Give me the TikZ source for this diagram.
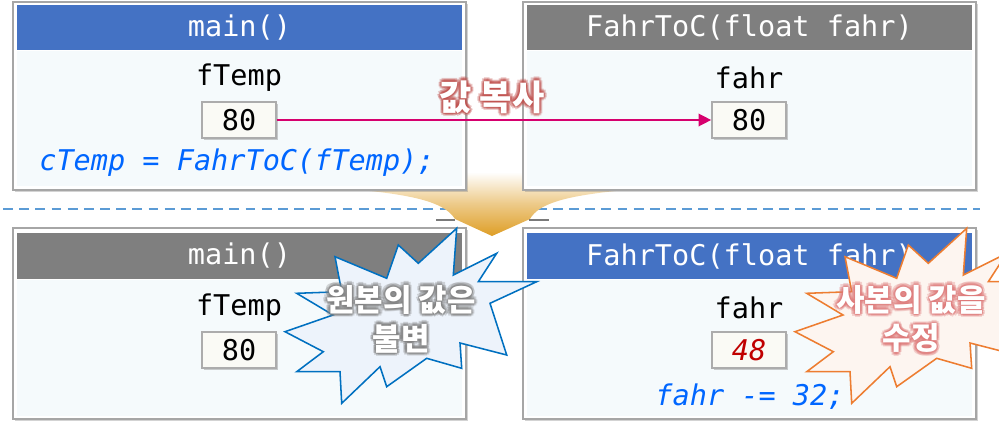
\documentclass[tikz,border=0pt]{standalone}
\usepackage{fontspec}
\setmonofont{DejaVu Sans Mono}
\newfontfamily\krfont{Noto Sans CJK KR}
\usepackage{tikz}
\usetikzlibrary{arrows.meta, shadows}

\definecolor{hdrblue}{RGB}{68,114,196}
\definecolor{hdrgray}{RGB}{127,127,127}
\definecolor{bodyfill}{RGB}{245,250,252}
\definecolor{valfill}{RGB}{250,250,245}
\definecolor{codeblue}{RGB}{0,102,255}
\definecolor{newval}{RGB}{192,0,0}
\definecolor{copypink}{RGB}{214,0,110}
\definecolor{sepblue}{RGB}{91,155,213}
\definecolor{funnelgold}{RGB}{222,158,38}
\definecolor{keepline}{RGB}{0,112,192}
\definecolor{keepfill}{RGB}{237,243,251}
\definecolor{editline}{RGB}{237,125,49}
\definecolor{editfill}{RGB}{253,245,240}
\definecolor{glowred}{RGB}{192,80,77}
\definecolor{glowpink}{RGB}{222,120,120}

\newcommand\codesize{\fontsize{20.3}{24}\selectfont}

\tikzset{
  frame/.style={draw=gray!70, line width=1.2pt, fill=white, inner sep=0pt,
    minimum width=11.325cm,
    drop shadow={shadow xshift=1.5pt, shadow yshift=-1.5pt, opacity=.35}},
  header/.style={fill=#1, text=white, inner sep=0pt, minimum width=11.125cm,
    minimum height=1.125cm, font=\ttfamily\codesize},
  body/.style={fill=bodyfill, inner sep=0pt, minimum width=11.125cm},
  varname/.style={font=\ttfamily\codesize},
  valbox/.style={draw=gray!65, line width=1.2pt, fill=valfill, inner sep=0pt,
    minimum width=1.85cm, minimum height=0.9cm, font=\ttfamily\codesize,
    drop shadow={shadow xshift=1.5pt, shadow yshift=-1.5pt, opacity=.4}},
  code/.style={font=\ttfamily\itshape\codesize, text=codeblue},
  copyline/.style={draw=copypink, line width=1pt, -{Triangle[length=9pt,width=9pt]}},
  kortxt/.style={font=\krfont\bfseries\fontsize{22}{27.5}\selectfont, align=center, inner sep=0pt},
  copytxt/.style={kortxt, font=\krfont\bfseries\fontsize{25}{30}\selectfont},
  burst/.pic={
    \path[pic actions] (456.7,228.3) -- (453.3,275) -- (496.7,253.3) -- (478.3,281.7)
      -- (536.7,281.7) -- (490,303.3) -- (506.7,355) -- (460,343) -- (461.7,368.3)
      -- (426.7,358.3) -- (386.7,386.7) -- (380,366.7) -- (341.7,403.3) -- (340,371.7)
      -- (296.7,371.7) -- (323.3,351.7) -- (285,331.7) -- (333,315) -- (296.7,293.3)
      -- (341.7,291.7) -- (335,256.7) -- (386.7,278.3) -- (398.3,245) -- (418.3,263.3)
      -- cycle;
  }
}

\begin{document}
\begin{tikzpicture}[x=0.025cm, y=-0.025cm]
 \useasboundingbox (0,0) rectangle (999,421);
 \clip (0,0) rectangle (999,421);

 % separator and the funnel arrow between the two states
 \draw[sepblue, line width=1.4pt, dash pattern=on 7pt off 4.5pt] (3,209) -- (980,209);
 \shade[top color=white, bottom color=funnelgold, middle color=funnelgold!55!white]
   (360,172) -- (626,172) -- (626,190) .. controls (560,196) and (538,205) .. (530,219)
   -- (492,236) -- (455,219) .. controls (446,205) and (424,196) .. (360,190) -- cycle;
 \draw[line width=2pt, black!65, opacity=.8] (436,220) -- (455,220);
 \draw[line width=2pt, black!65, opacity=.8] (529,220) -- (549,220);

 % before the call
 \node[frame, minimum height=4.7cm] (topmain) at (239.5,96) {};
 \node[header=hdrblue] (topmainhd) at (239.5,27.5) {main()};
 \node[body, minimum height=3.375cm] (topmainbd) at (239.5,118.5) {};
 \node[varname] (topftemp) at (239,78) {fTemp};
 \node[valbox] (topfval) at (239,120) {80};
 \node[code] (callcode) at (237,163) {cTemp = FahrToC(fTemp);};

 \node[frame, minimum height=4.7cm] (topfunc) at (749.5,96) {};
 \node[header=hdrgray] (topfunchd) at (749.5,27.5) {FahrToC(float fahr)};
 \node[body, minimum height=3.375cm] (topfuncbd) at (749.5,118.5) {};
 \node[varname] (topfahr) at (749,78) {fahr};
 \node[valbox] (topaval) at (749,120) {80};

 \draw[copyline] (topfval) -- (topaval);

 % after the call
 \node[frame, minimum height=4.775cm] (botmain) at (239.5,323.5) {};
 \node[header=hdrgray, minimum height=1.15cm] (botmainhd) at (239.5,256) {main()};
 \node[body, minimum height=3.4cm] (botmainbd) at (239.5,348) {};
 \node[varname] (botftemp) at (239,308) {fTemp};
 \node[valbox] (botfval) at (239,350) {80};

 \node[frame, minimum height=4.775cm] (botfunc) at (749.5,323.5) {};
 \node[header=hdrblue, minimum height=1.15cm] (botfunchd) at (749.5,256) {FahrToC(float fahr)};
 \node[body, minimum height=3.4cm] (botfuncbd) at (749.5,348) {};
 \node[varname] (botfahr) at (749,308) {fahr};
 \node[valbox, font=\ttfamily\itshape\codesize, text=newval] (botaval) at (749,350) {48};
 \node[code] (subcode) at (750,397) {fahr -= 32;};

 % callouts
 \pic[draw=keepline, fill=keepfill, line width=1.1pt] at (0,0) {burst};
 \pic[draw=editline, fill=editfill, line width=1.1pt] at (510,0) {burst};

 % glowing labels
 \foreach \r in {1.2pt,2.4pt} \foreach \a in {0,45,...,315} {
   \node[copytxt, text=glowred, text opacity=.3, shift={(\a:\r)}] (copyglow\a) at (492,97) {값 복사};
   \node[kortxt, text=gray, text opacity=.3, shift={(\a:\r)}] (keepglow\a) at (401,319) {원본의 값은\\불변};
   \node[kortxt, text=glowpink, text opacity=.3, shift={(\a:\r)}] (editglow\a) at (911,319) {사본의 값을\\수정};
 }
 \node[copytxt, text=white] (copylbl) at (492,97) {값 복사};
 \node[kortxt, text=white] (keeplbl) at (401,319) {원본의 값은\\불변};
 \node[kortxt, text=white] (editlbl) at (911,319) {사본의 값을\\수정};
\end{tikzpicture}
\end{document}
